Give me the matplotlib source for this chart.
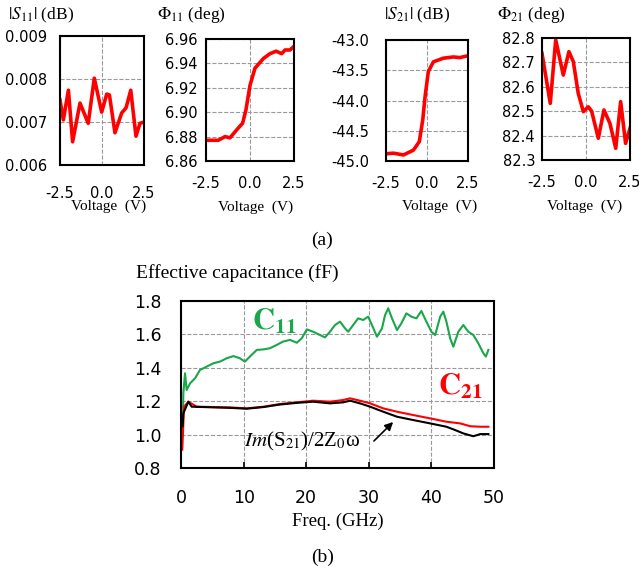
import matplotlib
matplotlib.use('Agg')
import matplotlib.pyplot as plt

plt.rcParams['font.family'] = ['Liberation Serif', 'DejaVu Serif']
plt.rcParams['mathtext.fontset'] = 'stix'

# ---- (a) voltage sweeps ----
v_s11 = [-2.5, -2.3, -2.0, -1.75, -1.31, -0.82, -0.46, -0.02, 0.28, 0.44, 0.77, 1.17, 1.43, 1.71, 2.02, 2.26, 2.5]
s11 = [0.00751, 0.00705, 0.00774, 0.00654, 0.00744, 0.00697, 0.00802, 0.00723, 0.00765, 0.00763,
       0.00675, 0.00721, 0.00733, 0.00774, 0.00667, 0.00697, 0.00700]

v_p11 = [-2.5, -1.8, -1.42, -1.14, -0.67, -0.42, -0.23, 0.0, 0.28, 0.76, 1.14, 1.48, 1.8, 1.99, 2.27, 2.5]
p11 = [6.877, 6.877, 6.880, 6.879, 6.887, 6.891, 6.902, 6.922, 6.936, 6.944, 6.948, 6.950, 6.948, 6.951, 6.951, 6.954]

v_s21 = [-2.5, -2.05, -1.44, -0.83, -0.47, -0.26, -0.12, 0.08, 0.39, 1.0, 1.61, 2.0, 2.5]
s21 = [-44.88, -44.87, -44.90, -44.82, -44.68, -44.32, -43.94, -43.52, -43.36, -43.30, -43.28, -43.29, -43.26]

v_p21 = [-2.5, -2.03, -1.72, -1.29, -0.97, -0.72, -0.44, -0.15, 0.13, 0.32, 0.70, 1.02, 1.36, 1.69, 1.97, 2.25, 2.5]
p21 = [82.737, 82.532, 82.792, 82.648, 82.744, 82.703, 82.573, 82.498, 82.518, 82.50, 82.389, 82.505,
       82.45, 82.348, 82.539, 82.368, 82.430]

# ---- (b) effective capacitance ----
f_c11 = [0.2, 0.3, 0.37, 0.64, 0.9, 1.44, 2.24, 3.03, 4.1, 5.17, 6.23, 7.3, 8.36, 9.4, 10.2, 11.0, 12.1,
         13.15, 14.2, 15.3, 16.3, 17.4, 18.5, 19.3, 20.1, 21.1, 22.2, 23.0, 23.8, 24.6, 25.4, 26.2, 26.7,
         27.5, 28.3, 29.1, 29.9, 30.5, 31.3, 32.1, 32.6, 33.1, 33.7, 34.5, 35.2, 36.0, 36.8, 37.6, 38.4,
         39.2, 40.0, 40.6, 41.4, 41.9, 42.4, 43.0, 43.5, 44.3, 45.1, 45.9, 46.7, 47.5, 48.3, 48.7, 49.1]
c11 = [0.98, 1.10, 1.247, 1.367, 1.267, 1.307, 1.337, 1.387, 1.407, 1.427, 1.437, 1.457, 1.47, 1.457,
       1.437, 1.467, 1.507, 1.51, 1.517, 1.537, 1.557, 1.567, 1.55, 1.577, 1.63, 1.616, 1.596, 1.582,
       1.616, 1.656, 1.676, 1.636, 1.616, 1.656, 1.696, 1.686, 1.706, 1.656, 1.586, 1.636, 1.716, 1.756,
       1.696, 1.626, 1.666, 1.726, 1.706, 1.696, 1.74, 1.676, 1.616, 1.596, 1.706, 1.736, 1.676, 1.576,
       1.526, 1.616, 1.656, 1.616, 1.596, 1.546, 1.487, 1.467, 1.507]

f_c21 = [0.2, 0.48, 1.17, 2.5, 7.8, 10.5, 13.2, 15.8, 18.5, 21.1, 23.8, 25.9, 27.0, 28.6, 30.2, 32.3,
         34.5, 37.1, 39.8, 42.4, 44.6, 46.2, 47.8, 49.1]
c21 = [0.91, 1.167, 1.197, 1.167, 1.163, 1.157, 1.167, 1.183, 1.193, 1.203, 1.197, 1.207, 1.217, 1.203,
       1.187, 1.157, 1.137, 1.117, 1.097, 1.077, 1.067, 1.05, 1.047, 1.047]

f_im = [0.25, 0.37, 1.17, 1.7, 7.8, 10.5, 13.2, 15.8, 18.5, 21.1, 23.8, 25.9, 27.0, 28.6, 30.2, 32.3,
        34.5, 37.1, 39.8, 42.4, 43.8, 45.1, 46.7, 47.8, 49.1]
c_im = [1.05, 1.127, 1.197, 1.167, 1.160, 1.155, 1.165, 1.180, 1.190, 1.197, 1.187, 1.193, 1.203, 1.187,
        1.167, 1.137, 1.107, 1.087, 1.067, 1.047, 1.027, 1.007, 0.99, 1.003, 1.003]

fig = plt.figure(figsize=(6.39, 5.71), dpi=100)

# rect, x, y, ylim, yticks, fmt, ytick pad, xtick pad, xlabel x/y (axes coords), title, title x (px)
top = [
    ([0.0939, 0.7110, 0.1315, 0.2259], v_s11, s11, (0.006, 0.009), [0.006, 0.007, 0.008, 0.009], '%.3f', 9, 15, 0.58, -0.27, r'$|S_{11}|$ (dB)', 8),
    ([0.3224, 0.7180, 0.1377, 0.2137], v_p11, p11, (6.86, 6.96), [6.86, 6.88, 6.90, 6.92, 6.94, 6.96], '%.2f', 6, 11, 0.56, -0.32, r'$\Phi_{11}$ (deg)', 157),
    ([0.6041, 0.7180, 0.1283, 0.2119], v_s21, s21, (-45, -43), [-45, -44.5, -44, -43.5, -43], '%.1f', 12, 11, 0.65, -0.32, r'$|S_{21}|$ (dB)', 384),
    ([0.8482, 0.7198, 0.1377, 0.2137], v_p21, p21, (82.3, 82.8), [82.3, 82.4, 82.5, 82.6, 82.7, 82.8], '%.1f', 5, 11, 0.48, -0.32, r'$\Phi_{21}$ (deg)', 497),
]

for rect, xv, yv, ylim, yt, fmt, ypad, xpad, xlx, xly, title, tx in top:
    ax = fig.add_axes(rect)
    ax.plot(xv, yv, color='#ff0000', lw=2.6, solid_joinstyle='round')
    ax.set_xlim(-2.5, 2.5)
    ax.set_ylim(*ylim)
    ax.set_xticks([-2.5, 0, 2.5])
    ax.set_xticklabels(['-2.5', '0.0', '2.5'])
    ax.set_yticks(yt)
    ax.set_yticklabels([fmt % t for t in yt])
    ax.grid(True, ls='--', color='#999999', lw=0.8)
    ax.tick_params(length=0, labelsize=10.5, labelfontfamily='DejaVu Sans')
    ax.tick_params(axis='y', pad=ypad)
    ax.tick_params(axis='x', pad=xpad)
    for s in ax.spines.values():
        s.set_linewidth(1.5)
    ax.set_xlabel('Voltage  (V)', fontsize=11)
    ax.xaxis.set_label_coords(xlx, xly)
    fig.text(tx / 639, 1 - 15 / 571, title, fontsize=12.5, va='center', ha='left')

fig.text(322 / 639, 1 - 240 / 571, '(a)', fontsize=14, ha='center', va='center')

# ---- (b) ----
ax = fig.add_axes([0.2833, 0.1804, 0.4898, 0.2925])
ax.plot(f_c11, c11, color='#1aa64a', lw=1.5)
ax.plot(f_c21, c21, color='#ff0000', lw=1.5)
ax.plot(f_im, c_im, color='black', lw=1.5)
ax.set_xlim(0, 50)
ax.set_ylim(0.8, 1.8)
ax.set_xticks([0, 10, 20, 30, 40, 50])
ax.set_yticks([0.8, 1.0, 1.2, 1.4, 1.6, 1.8])
ax.set_yticklabels(['0.8', '1.0', '1.2', '1.4', '1.6', '1.8'])
ax.grid(True, ls='--', color='#999999', lw=0.8)
ax.tick_params(axis='x', direction='in', length=4, width=1.2, pad=15, labelsize=12.5,
               labelfontfamily='DejaVu Sans')
ax.tick_params(axis='y', length=0, pad=14, labelsize=12.5, labelfontfamily='DejaVu Sans')
for s in ax.spines.values():
    s.set_linewidth(1.5)
ax.set_xlabel('Freq. (GHz)', fontsize=13.5, labelpad=4)
fig.text(136 / 639, 1 - 273 / 571, 'Effective capacitance (fF)', fontsize=14, va='center', ha='left')

ax.text(11.3, 1.63, r'$\mathbf{C_{11}}$', color='#1aa64a', fontsize=22)
ax.text(41.0, 1.24, r'$\mathbf{C_{21}}$', color='#ff0000', fontsize=22)
ax.text(19.3, 0.956, r'$\mathit{Im}$(S$_{21}$)/2Z$_0$ω', fontsize=15, ha='center', va='center')
ax.annotate('', xy=(34.2, 1.087), xytext=(30.5, 0.95),
            arrowprops=dict(arrowstyle='-|>', color='black', lw=1.2, mutation_scale=12))

fig.text(323 / 639, 1 - 557 / 571, '(b)', fontsize=14, ha='center', va='center')

fig.savefig('out.png', dpi=100)
